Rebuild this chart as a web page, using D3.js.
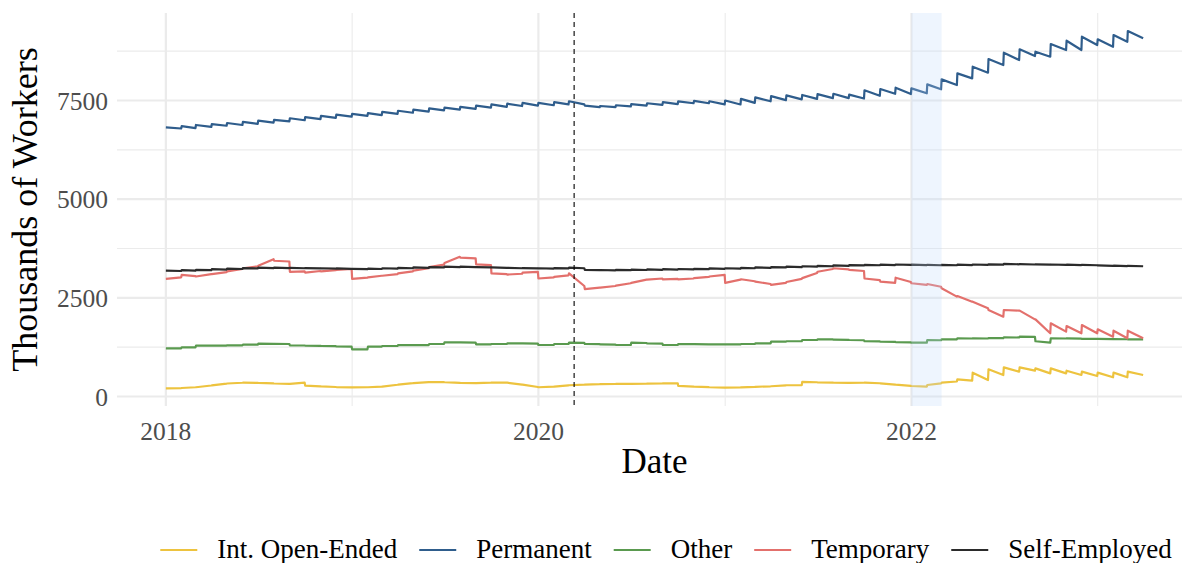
<!DOCTYPE html>
<html>
<head>
<meta charset="utf-8">
<script src="https://cdn.jsdelivr.net/npm/d3@7"></script>
<style>
  body { margin: 0; background: #fff; }
  svg { display: block; font-family: "Liberation Serif", "DejaVu Serif", serif; }
</style>
</head>
<body>
<svg id="chart"></svg>
<script>
// monthly values, Jan 2018 .. Mar 2023 (value on first day / value on last day of month)
var seriesNames = ["Int. Open-Ended", "Permanent", "Other", "Temporary", "Self-Employed"];
var seriesColors = ["#EDC33F", "#2F5D8C", "#5A9A4F", "#E3706C", "#2B2B2B"];

var openStart = [207, 215, 235, 280, 330, 350, 345, 330, 320, 275, 255, 240,
  230, 235, 250, 300, 340, 365, 365, 345, 340, 355, 350, 300,
  235, 250, 285, 300, 315, 318, 320, 325, 335, 270, 250, 235,
  224, 230, 245, 260, 285, 370, 360, 350, 345, 350, 335, 300,
  266, 291, 350, 435, 604, 688, 739, 739, 713, 713, 654, 629,
  604, 604, 629];
var openEnd = [214, 234, 278, 328, 349, 346, 331, 322, 350, 258, 241, 231,
  235, 249, 298, 338, 364, 366, 346, 341, 354, 351, 302, 240,
  249, 284, 299, 314, 317, 319, 324, 334, 336, 251, 236, 226,
  229, 244, 259, 284, 290, 361, 351, 346, 349, 336, 302, 268,
  249, 334, 380, 401, 418, 545, 629, 654, 587, 587, 545, 519,
  486, 486, 545];

var permStart = [6820, 6850, 6880, 6900, 6930, 6960, 6990, 7010, 7050, 7080, 7110, 7140,
  7160, 7180, 7210, 7240, 7270, 7300, 7320, 7340, 7370, 7400, 7420, 7440,
  7440, 7460, 7480, 7370, 7360, 7380, 7410, 7430, 7460, 7480, 7490, 7480,
  7500, 7540, 7580, 7610, 7630, 7640, 7660, 7670, 7650, 7760, 7790, 7825,
  7808, 7909, 8036, 8188, 8357, 8551, 8711, 8796, 8737, 8931, 9015, 9116,
  9050, 9159, 9260];
var permEnd = [6790, 6800, 6830, 6860, 6880, 6910, 6940, 6970, 7000, 7030, 7060, 7090,
  7110, 7130, 7160, 7190, 7220, 7250, 7270, 7290, 7320, 7340, 7360, 7370,
  7380, 7400, 7400, 7330, 7330, 7350, 7370, 7390, 7410, 7430, 7430, 7400,
  7400, 7440, 7480, 7510, 7530, 7540, 7560, 7560, 7550, 7620, 7670, 7664,
  7682, 7783, 7892, 8061, 8205, 8399, 8526, 8627, 8610, 8779, 8779, 8906,
  8862, 8989, 9075];

var otherStart = [1220, 1245, 1287, 1290, 1295, 1313, 1338, 1335, 1296, 1290, 1280, 1270,
  1195, 1263, 1280, 1304, 1304, 1330, 1372, 1370, 1322, 1330, 1347, 1345,
  1305, 1330, 1363, 1330, 1320, 1305, 1363, 1345, 1305, 1330, 1325, 1322,
  1322, 1330, 1347, 1390, 1400, 1431, 1448, 1440, 1431, 1400, 1390, 1380,
  1363, 1431, 1448, 1473, 1473, 1480, 1498, 1515, 1400, 1473, 1473, 1460,
  1460, 1455, 1448];
var otherEnd = [1220, 1245, 1287, 1290, 1295, 1313, 1335, 1330, 1292, 1285, 1275, 1263,
  1195, 1263, 1280, 1304, 1304, 1330, 1370, 1365, 1322, 1330, 1345, 1340,
  1305, 1330, 1360, 1325, 1315, 1305, 1355, 1340, 1305, 1328, 1322, 1320,
  1320, 1330, 1347, 1390, 1400, 1431, 1445, 1435, 1425, 1395, 1385, 1370,
  1363, 1425, 1448, 1470, 1470, 1478, 1495, 1510, 1363, 1470, 1465, 1458,
  1455, 1450, 1448];

var tempStart = [2980, 3080, 3040, 3100, 3170, 3250, 3310, 3440, 3160, 3140, 3170, 3210,
  2980, 3020, 3060, 3120, 3190, 3280, 3380, 3520, 3350, 3120, 3090, 3140,
  2990, 3030, 3120, 2720, 2760, 2810, 2880, 2960, 2970, 2970, 3000, 3040,
  2880, 2970, 2910, 2830, 2900, 3000, 3160, 3250, 3210, 2990, 2910, 3010,
  2870, 2850, 2741, 2546, 2403, 2192, 2192, 2175, 1955, 1854, 1786, 1812,
  1702, 1668, 1668];
var tempEnd = [3020, 3050, 3100, 3150, 3230, 3300, 3480, 3420, 3170, 3180, 3200, 3230,
  3010, 3060, 3100, 3170, 3250, 3340, 3540, 3500, 3330, 3100, 3110, 3160,
  3020, 3070, 2800, 2760, 2800, 2870, 2960, 2990, 2980, 2990, 3030, 3080,
  2960, 2920, 2850, 2880, 2980, 3130, 3230, 3220, 3180, 2950, 2880, 2900,
  2830, 2780, 2530, 2403, 2234, 2022, 2175, 1955, 1601, 1643, 1601, 1601,
  1516, 1474, 1474];

var selfStart = [3190, 3200, 3210, 3225, 3240, 3255, 3265, 3265, 3260, 3255, 3250, 3245,
  3235, 3240, 3250, 3260, 3270, 3280, 3290, 3290, 3280, 3270, 3260, 3255,
  3250, 3255, 3265, 3210, 3205, 3210, 3215, 3220, 3225, 3230, 3235, 3245,
  3250, 3260, 3270, 3280, 3290, 3300, 3310, 3320, 3330, 3335, 3340, 3345,
  3340, 3335, 3335, 3340, 3345, 3350, 3360, 3355, 3350, 3345, 3340, 3335,
  3320, 3315, 3310];
var selfEnd = [3180, 3190, 3200, 3215, 3230, 3245, 3255, 3255, 3250, 3245, 3240, 3235,
  3225, 3230, 3240, 3250, 3260, 3270, 3280, 3280, 3270, 3260, 3250, 3245,
  3240, 3245, 3250, 3200, 3195, 3200, 3205, 3210, 3215, 3220, 3225, 3235,
  3240, 3250, 3260, 3270, 3280, 3290, 3300, 3310, 3320, 3325, 3330, 3335,
  3330, 3325, 3325, 3330, 3335, 3340, 3350, 3345, 3340, 3335, 3330, 3325,
  3310, 3305, 3300];

var yTicks = [0, 2500, 5000, 7500];
var yMinor = [1250, 3750, 6250, 8750];
var xTickYears = [2018, 2020, 2022];
var xMinorYears = [2019, 2021, 2023];
var covidDate = new Date(Date.UTC(2020, 2, 11));
var reformStart = new Date(Date.UTC(2022, 0, 1));
var reformEnd = new Date(Date.UTC(2022, 2, 1));

var screen = { width: 1182, height: 563 };
var panel = { left: 117, right: 1192, top: 13, bottom: 406 };

var svg = d3.select("#chart").attr("width", screen.width).attr("height", screen.height);

var months = d3.utcMonth.range(new Date(Date.UTC(2018, 0, 1)), new Date(Date.UTC(2023, 3, 1)));
var firstDay = months[0];
var lastDay = d3.utcDay.offset(d3.utcMonth.offset(months[months.length - 1], 1), -1);
var pad = (lastDay - firstDay) * 0.05;

var x = d3.scaleUtc()
  .domain([new Date(+firstDay - pad), new Date(+lastDay + pad)])
  .range([panel.left, panel.right]);
var y = d3.scaleLinear().domain([0, 7500]).range([396.5, 100.5]);

var yr = function (yy) { return new Date(Date.UTC(yy, 0, 1)); };

//grid//
var grid = svg.append("g");
grid.selectAll(".ymin").data(yMinor).enter().append("line")
  .attr("x1", panel.left).attr("x2", screen.width)
  .attr("y1", function (d) { return y(d); }).attr("y2", function (d) { return y(d); })
  .attr("stroke", "#EBEBEB").attr("stroke-width", 1.1);
grid.selectAll(".xmin").data(xMinorYears).enter().append("line")
  .attr("x1", function (d) { return x(yr(d)); }).attr("x2", function (d) { return x(yr(d)); })
  .attr("y1", panel.top).attr("y2", panel.bottom)
  .attr("stroke", "#EBEBEB").attr("stroke-width", 1.1);
grid.selectAll(".ymaj").data(yTicks).enter().append("line")
  .attr("x1", panel.left).attr("x2", screen.width)
  .attr("y1", function (d) { return y(d); }).attr("y2", function (d) { return y(d); })
  .attr("stroke", "#EBEBEB").attr("stroke-width", 2.2);
grid.selectAll(".xmaj").data(xTickYears).enter().append("line")
  .attr("x1", function (d) { return x(yr(d)); }).attr("x2", function (d) { return x(yr(d)); })
  .attr("y1", panel.top).attr("y2", panel.bottom)
  .attr("stroke", "#EBEBEB").attr("stroke-width", 2.2);

//lines//
var allStart = [openStart, permStart, otherStart, tempStart, selfStart];
var allEnd = [openEnd, permEnd, otherEnd, tempEnd, selfEnd];

var line = d3.line()
  .x(function (d) { return x(d.date); })
  .y(function (d) { return y(d.value); });

seriesNames.forEach(function (name, i) {
  var pts = [];
  months.forEach(function (m, k) {
    pts.push({ date: m, value: allStart[i][k] });
    pts.push({ date: d3.utcDay.offset(d3.utcMonth.offset(m, 1), -1), value: allEnd[i][k] });
  });
  svg.append("path")
    .datum(pts)
    .attr("d", line)
    .attr("fill", "none")
    .attr("stroke", seriesColors[i])
    .attr("stroke-width", 2.2)
    .attr("stroke-linejoin", "round");
});

//shaded reform period, drawn over lines//
svg.append("rect")
  .attr("x", x(reformStart))
  .attr("width", x(reformEnd) - x(reformStart))
  .attr("y", panel.top)
  .attr("height", panel.bottom - panel.top)
  .attr("fill", "rgb(187,215,251)")
  .attr("fill-opacity", 0.25);

//covid line//
svg.append("line")
  .attr("x1", x(covidDate)).attr("x2", x(covidDate))
  .attr("y1", panel.top).attr("y2", panel.bottom)
  .attr("stroke", "#000").attr("stroke-width", 1.1)
  .attr("stroke-dasharray", "5,4");

//axis labels//
svg.selectAll(".ytick").data(yTicks).enter().append("text")
  .attr("x", 108).attr("y", function (d) { return y(d) + 9; })
  .attr("text-anchor", "end")
  .attr("font-size", 25.5)
  .attr("fill", "#4D4D4D")
  .text(function (d) { return d; });

svg.selectAll(".xtick").data(xTickYears).enter().append("text")
  .attr("x", function (d) { return x(yr(d)); })
  .attr("y", 440)
  .attr("text-anchor", "middle")
  .attr("font-size", 25.5)
  .attr("fill", "#4D4D4D")
  .text(function (d) { return d; });

svg.append("text")
  .attr("x", (panel.left + panel.right) / 2)
  .attr("y", 473)
  .attr("text-anchor", "middle")
  .attr("font-size", 35)
  .text("Date");

svg.append("text")
  .attr("transform", "translate(37," + (panel.top + panel.bottom) / 2 + ") rotate(-90)")
  .attr("text-anchor", "middle")
  .attr("font-size", 36)
  .text("Thousands of Workers");

//legend//
var keyW = 37, keyGap = 20, itemGap = 22, legendY = 550;
var widths = [];
var probe = svg.append("text").attr("font-size", 27);
seriesNames.forEach(function (name) {
  probe.text(name);
  widths.push(probe.node().getComputedTextLength());
});
probe.remove();
var legendW = d3.sum(widths) + seriesNames.length * (keyW + keyGap) + (seriesNames.length - 1) * itemGap;
var lx = 666 - legendW / 2;
seriesNames.forEach(function (name, i) {
  svg.append("line").attr("x1", lx).attr("x2", lx + keyW)
    .attr("y1", legendY).attr("y2", legendY)
    .attr("stroke", seriesColors[i]).attr("stroke-width", 2.2);
  svg.append("text").attr("x", lx + keyW + keyGap).attr("y", legendY + 8)
    .attr("font-size", 27).text(name);
  lx += keyW + keyGap + widths[i] + itemGap;
});
</script>
</body>
</html>
